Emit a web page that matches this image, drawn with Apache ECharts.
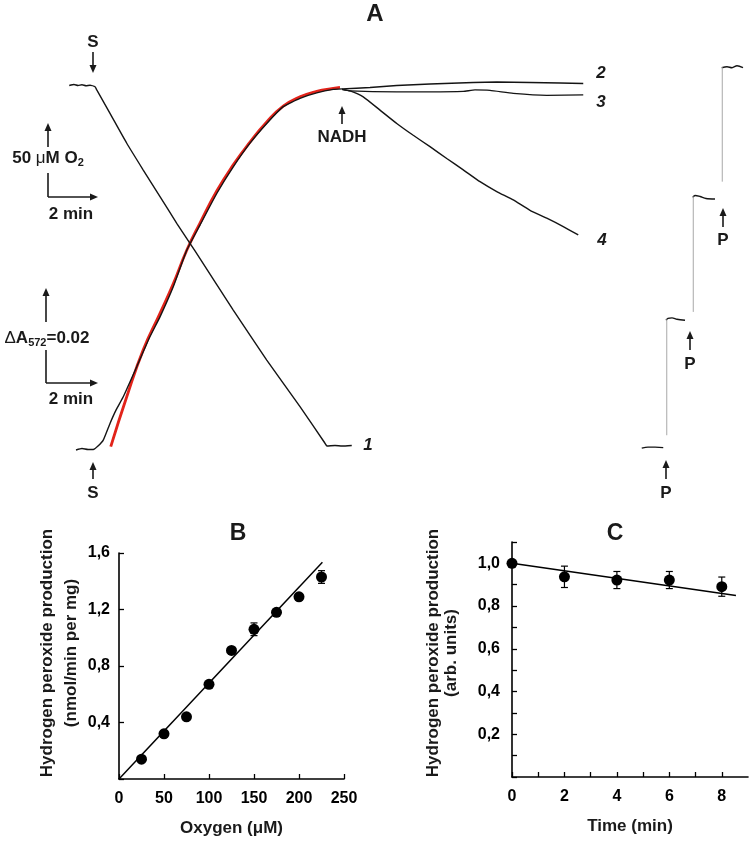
<!DOCTYPE html>
<html><head><meta charset="utf-8">
<script src="https://cdn.jsdelivr.net/npm/echarts@6/dist/echarts.min.js"></script>
<style>html,body{margin:0;padding:0;background:#fff}#c{width:750px;height:843px}</style>
</head><body><div id="c"></div>
<script>
// ---------- Panel A data (time in min; O2 in µM; absorbance ΔA572) ----------
const trace1O2 = [[2.77,243.3],[2.96,244.0],[3.12,243.3],[3.28,243.8],[3.44,243.1],[3.60,243.5],[3.80,242.5],[3.87,240.3],
  [4.40,224.5],[5.07,204.3],[5.73,186.2],[6.40,168.2],[7.07,150.2],[7.60,136.7],[8.00,126.3],
  [9.33,91.6],[10.67,57.8],[12.00,26.3],[13.00,1.6],[13.08,-0.3],[13.40,0.1],[13.68,-0.3],[14.07,0.1]];
const traceAbsMain = [[3.04,0.0001],[3.28,0.0004],[3.52,0.0002],[3.73,0.0002],[3.92,0.0009],[4.13,0.0021],[4.40,0.0055],
  [4.64,0.0082],[4.93,0.0109],[5.47,0.0170],[6.00,0.0231],[6.40,0.0271],[6.93,0.0332],[7.47,0.0406],[8.00,0.0457],
  [8.67,0.0521],[9.33,0.0575],[10.00,0.0623],[10.67,0.0663],[11.33,0.0697],[12.00,0.0714],[12.67,0.0725],[13.33,0.0732],[13.68,0.0733]];
const trace2 = [[13.68,0.0733],[14.80,0.0736],[15.87,0.0740],[17.20,0.0743],[18.93,0.0746],[19.87,0.0747],[21.20,0.0746],[22.40,0.0745],[23.33,0.0744]];
const trace3 = [[13.68,0.0732],[14.00,0.0729],[15.87,0.0727],[17.20,0.0727],[18.53,0.0728],[19.00,0.0731],[19.60,0.0730],[20.53,0.0724],[21.87,0.0720],[23.33,0.0721]];
const trace4 = [[13.68,0.0732],[14.00,0.0729],[14.53,0.0717],[15.20,0.0690],[15.87,0.0663],[16.53,0.0639],[17.20,0.0616],[17.87,0.0592],
  [18.53,0.0569],[19.20,0.0545],[19.87,0.0525],[20.53,0.0508],[21.20,0.0487],[21.87,0.0471],[22.53,0.0454],[23.13,0.0437]];
const fitRed = [[4.43,0.0008],[5.07,0.0109],[5.73,0.0204],[6.40,0.0278],[6.93,0.0338],[7.47,0.0406],[8.00,0.0461],[8.67,0.0526],
  [9.33,0.0579],[10.00,0.0625],[10.67,0.0666],[11.33,0.0698],[12.00,0.0717],[12.67,0.0728],[13.33,0.0734],[13.60,0.0736]];
const pFlats = [
  [[25.67,0.0005],[25.92,0.0007],[26.20,0.0007],[26.53,0.0006]],
  [[26.64,0.0264],[26.72,0.0268],[26.88,0.0269],[27.08,0.0266],[27.40,0.0264]],
  [[27.71,0.0513],[27.80,0.0517],[28.00,0.0515],[28.24,0.0511],[28.60,0.0510]],
  [[28.87,0.0776],[29.08,0.0778],[29.28,0.0776],[29.48,0.0780],[29.72,0.0776]]
];
const pJumps = [
  [[26.67,0.0031],[26.67,0.0266]],
  [[27.73,0.0281],[27.73,0.0515]],
  [[28.89,0.0545],[28.89,0.0777]]
];
// ---------- Panel B data ----------
const bOxygen = [25,50,75,100,125,150,175,200,225];
const bRate   = [0.14,0.32,0.44,0.67,0.91,1.06,1.18,1.29,1.43];
const bErr    = [0.01,0.01,0.01,0.01,0.01,0.045,0.015,0.015,0.045];
const bFit    = [[0,0],[226,1.535]];
const bXTicks = [0,50,100,150,200,250];
const bYTicks = [0.4,0.8,1.2,1.6];
// ---------- Panel C data ----------
const cTime = [0,2,4,6,8];
const cRel  = [1.0,0.937,0.922,0.922,0.891];
const cErr  = [0,0.05,0.04,0.04,0.045];
const cFit  = [[0,1.0],[8.54,0.85]];
const cXTicks = [0,2,4,6,8];
const cYTicks = [0.2,0.4,0.6,0.8,1.0];

const F = "'Liberation Sans', Arial, Helvetica, sans-serif";
const ink = '#1a1a1a';
const chart = echarts.init(document.getElementById('c'), null, {renderer:'canvas'});

function txt(x,y,text,size,opts){
  opts = opts||{};
  return {type:'text', x:x, y:y, z:100, rotation: opts.rotation||0,
    style:{text:text, fill:ink, font:(opts.italic?'italic ':'')+'bold '+size+'px '+F, align:'center', verticalAlign:'middle'}};
}
function richTxt(x,y,text,rich){
  return {type:'text', x:x, y:y, z:100, style:{text:text, fill:ink, align:'center', verticalAlign:'middle', rich:rich}};
}
function seg(x1,y1,x2,y2,w){
  return {type:'line', z:100, shape:{x1:x1,y1:y1,x2:x2,y2:y2}, style:{stroke:ink, lineWidth:w||1.6}};
}
function arrow(x1,y1,x2,y2){
  const dx=x2-x1, dy=y2-y1, L=Math.hypot(dx,dy), ux=dx/L, uy=dy/L, hl=8, hw=3.5;
  const bx=x2-ux*hl, by=y2-uy*hl;
  return [seg(x1,y1,bx+ux*1,by+uy*1),
    {type:'polygon', z:100, shape:{points:[[x2,y2],[bx-uy*hw,by+ux*hw],[bx+uy*hw,by-ux*hw]]}, style:{fill:ink}}];
}
const rb = {fontSize:17, fontWeight:'bold', fontFamily:F, fill:ink};
const rm = {fontSize:17, fontWeight:'normal', fontFamily:F, fill:ink};
const rs = {fontSize:11, fontWeight:'bold', fontFamily:F, fill:ink, padding:[10,0,0,0]};

const g = [];
g.push(txt(375,14,'A',24));
g.push(txt(93,42,'S',17)); g.push(...arrow(93,52,93,73));
g.push(seg(48,197,48,173)); g.push(...arrow(48,147,48,123)); g.push(...arrow(48,197,98,197));
g.push(richTxt(48,158,'{b|50 }{m|μ}{b|M O}{s|2}',{b:rb,m:rm,s:rs}));
g.push(txt(71,214,'2 min',17));
g.push(seg(46,383,46,350)); g.push(...arrow(46,322,46,288)); g.push(...arrow(46,383,98,383));
g.push(richTxt(47,338,'{m|Δ}{b|A}{s|572}{b|=0.02}',{b:rb,m:rm,s:rs}));
g.push(txt(71,399,'2 min',17));
g.push(...arrow(93,479,93,462)); g.push(txt(93,493,'S',17));
g.push(...arrow(342,124,342,106)); g.push(txt(342,137,'NADH',17));
g.push(...arrow(666,479,666,460)); g.push(txt(666,493,'P',17));
g.push(...arrow(690,350,690,331)); g.push(txt(690,364,'P',17));
g.push(...arrow(723,227,723,208)); g.push(txt(723,240,'P',17));
g.push(txt(368,445,'1',17,{italic:true}));
g.push(txt(601,73,'2',17,{italic:true}));
g.push(txt(601,102,'3',17,{italic:true}));
g.push(txt(602,240,'4',17,{italic:true}));
g.push(txt(238,534,'B',23)); g.push(txt(615,534,'C',23));
g.push(txt(47,653,'Hydrogen peroxide production',17,{rotation:Math.PI/2}));
g.push(txt(71,653,'(nmol/min per mg)',17,{rotation:Math.PI/2}));
g.push(txt(433,653,'Hydrogen peroxide production',17,{rotation:Math.PI/2}));
g.push(txt(451,653,'(arb. units)',17,{rotation:Math.PI/2}));

function errRender(params, api){
  const x=api.value(0), y=api.value(1), e=api.value(2);
  if(!e) return null;
  const t=api.coord([x,y+e]), b=api.coord([x,y-e]), w=3.5;
  const st={stroke:'#000', lineWidth:1.2};
  return {type:'group', children:[
    {type:'line', shape:{x1:t[0],y1:t[1],x2:b[0],y2:b[1]}, style:st},
    {type:'line', shape:{x1:t[0]-w,y1:t[1],x2:t[0]+w,y2:t[1]}, style:st},
    {type:'line', shape:{x1:b[0]-w,y1:b[1],x2:b[0]+w,y2:b[1]}, style:st}
  ]};
}
const axLine = {show:true, lineStyle:{color:'#000', width:1.6}};
const tick = {show:true, inside:true, length:5, lineStyle:{color:'#000', width:1.3}};
const lab = {color:'#000', fontFamily:F, fontWeight:'bold', fontSize:16};
const comma = v => v.toFixed(1).replace('.',',');

const blackLine = (data, yIdx, extra) => Object.assign({type:'line', xAxisIndex:0, yAxisIndex:yIdx, data:data, showSymbol:false,
  symbol:'none', smooth:0.15, clip:false, lineStyle:{color:'#141414', width:1.4}, z:5, silent:true}, extra||{});

const series = [
  blackLine(trace1O2, 0),
  Object.assign(blackLine(fitRed, 1, {smooth:true, z:3}), {lineStyle:{color:'#e2231a', width:2.8}}),
  blackLine(traceAbsMain, 1),
  blackLine(trace2, 1),
  blackLine(trace3, 1),
  blackLine(trace4, 1)
];
pFlats.forEach(d => series.push(blackLine(d, 1, {smooth:0.3})));
pJumps.forEach(d => series.push(blackLine(d, 1, {smooth:false, lineStyle:{color:'#a8a8a8', width:1}})));
// Panel B
series.push({type:'line', xAxisIndex:1, yAxisIndex:2, data:bFit, showSymbol:false, symbol:'none', lineStyle:{color:'#000', width:1.5}, clip:false});
series.push({type:'custom', xAxisIndex:1, yAxisIndex:2, renderItem:errRender, encode:{x:0,y:1}, clip:false,
  data:bOxygen.map((x,i)=>[x,bRate[i],bErr[i]])});
series.push({type:'scatter', xAxisIndex:1, yAxisIndex:2, symbolSize:11, itemStyle:{color:'#000', opacity:1}, clip:false, z:4,
  data:bOxygen.map((x,i)=>[x,bRate[i]])});
// Panel C
series.push({type:'line', xAxisIndex:2, yAxisIndex:3, data:cFit, showSymbol:false, symbol:'none', lineStyle:{color:'#000', width:1.5}, clip:false});
series.push({type:'custom', xAxisIndex:2, yAxisIndex:3, renderItem:errRender, encode:{x:0,y:1}, clip:false,
  data:cTime.map((x,i)=>[x,cRel[i],cErr[i]])});
series.push({type:'scatter', xAxisIndex:2, yAxisIndex:3, symbolSize:11, itemStyle:{color:'#000', opacity:1}, clip:false, z:4,
  data:cTime.map((x,i)=>[x,cRel[i]])});

const hidden = {show:false};
chart.setOption({
  animation:false,
  backgroundColor:'#fff',
  grid:[
    {left:0, top:46, width:750, height:444},
    {left:119, top:553, width:225, height:226},
    {left:512, top:542, width:236, height:235}
  ],
  xAxis:[
    {gridIndex:0, type:'value', min:0, max:30, show:false, splitLine:hidden},
    {gridIndex:1, type:'value', min:0, max:250, interval:50, axisLine:axLine, axisTick:tick, splitLine:hidden,
      axisLabel:Object.assign({margin:12, interval:0, formatter:v=>bXTicks.indexOf(v)>=0?String(v):''}, lab),
      name:'Oxygen (μM)', nameLocation:'middle', nameGap:41,
      nameTextStyle:{color:ink, fontFamily:F, fontWeight:'bold', fontSize:17}},
    {gridIndex:2, type:'value', min:0, max:9, interval:1, axisLine:axLine, axisTick:Object.assign({interval:0},tick), splitLine:hidden,
      axisLabel:Object.assign({margin:12, interval:0, showMaxLabel:false, formatter:v=>cXTicks.indexOf(v)>=0?String(v):''}, lab),
      name:'Time (min)', nameLocation:'middle', nameGap:41,
      nameTextStyle:{color:ink, fontFamily:F, fontWeight:'bold', fontSize:17}}
  ],
  yAxis:[
    {gridIndex:0, type:'value', min:-30, max:270, show:false, splitLine:hidden},
    {gridIndex:0, type:'value', min:-0.008, max:0.082, show:false, splitLine:hidden},
    {gridIndex:1, type:'value', min:0, max:1.6, interval:0.4, axisLine:axLine, axisTick:tick, splitLine:hidden,
      axisLabel:Object.assign({margin:9, interval:0, formatter:v=>{const k=Math.round(v*10);return bYTicks.some(t=>Math.round(t*10)===k)?comma(k/10):'';}}, lab)},
    {gridIndex:2, type:'value', min:0, max:1.1, interval:0.1, axisLine:axLine, axisTick:Object.assign({interval:0},tick), splitLine:hidden,
      axisLabel:Object.assign({margin:12, interval:0, formatter:v=>{const k=Math.round(v*10);return cYTicks.some(t=>Math.round(t*10)===k)?comma(k/10):'';}}, lab)}
  ],
  graphic:g,
  series:series
});
</script></body></html>
